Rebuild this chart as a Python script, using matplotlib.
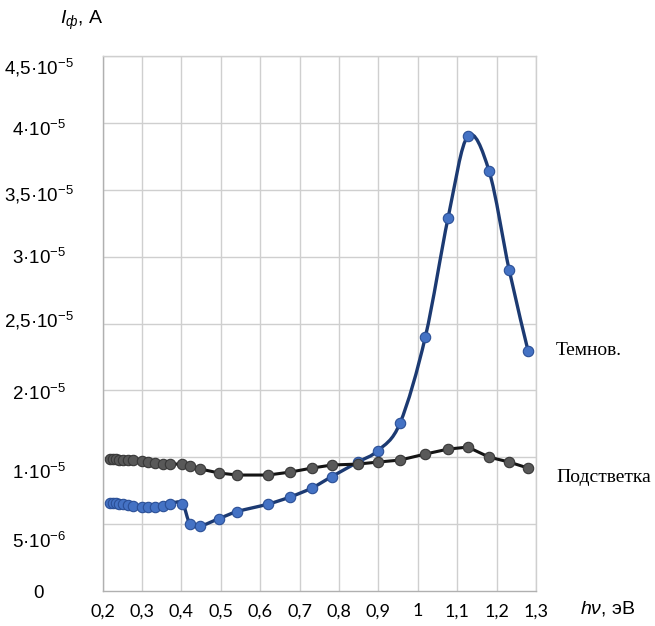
import matplotlib

matplotlib.use("Agg")
import matplotlib.pyplot as plt
import numpy as np
from matplotlib.path import Path
from matplotlib.patches import PathPatch


# photon energy, eV (same points for both curves)
hv = [0.219, 0.226, 0.234, 0.242, 0.252, 0.264, 0.277, 0.300, 0.315, 0.333,
      0.353, 0.371, 0.402, 0.422, 0.448, 0.496, 0.542, 0.620, 0.676, 0.731,
      0.782, 0.848, 0.899, 0.955, 1.019, 1.077, 1.127, 1.181, 1.232, 1.280]

# photocurrent, 1e-6 A (in the chart's grid units, 5e-6 per grid step)
dark = [6.58, 6.58, 6.58, 6.54, 6.50, 6.42, 6.35, 6.28, 6.28, 6.28,
        6.35, 6.54, 6.54, 5.01, 4.86, 5.42, 5.94, 6.50, 7.03, 7.70,
        8.56, 9.64, 10.50, 12.56, 18.98, 27.92, 34.01, 31.39, 23.99, 17.94]
backlit = [9.87, 9.87, 9.87, 9.83, 9.83, 9.79, 9.79, 9.72, 9.64, 9.57,
           9.49, 9.49, 9.49, 9.34, 9.12, 8.82, 8.67, 8.67, 8.89, 9.19,
           9.42, 9.49, 9.64, 9.79, 10.24, 10.61, 10.76, 10.01, 9.64, 9.19]

x_ticks = [0.2, 0.3, 0.4, 0.5, 0.6, 0.7, 0.8, 0.9, 1.0, 1.1, 1.2, 1.3]
x_labels = ["0,2", "0,3", "0,4", "0,5", "0,6", "0,7", "0,8", "0,9", "1",
            "1,1", "1,2", "1,3"]
y_labels = ["0", "5·$\\mathregular{10^{-6}}$", "1·$\\mathregular{10^{-5}}$",
            "2·$\\mathregular{10^{-5}}$", "2,5·$\\mathregular{10^{-5}}$",
            "3·$\\mathregular{10^{-5}}$", "3,5·$\\mathregular{10^{-5}}$",
            "4·$\\mathregular{10^{-5}}$", "4,5·$\\mathregular{10^{-5}}$"]

# where the hand-placed y labels sit, in grid steps
Y_LABEL_POS = [0.0, 0.76, 1.79, 2.98, 4.07, 5.01, 5.96, 6.92, 7.86]
STEP = 5e-6
GRID = "#cfcfcf"


def smooth_path(xs, ys):
    # Catmull-Rom through the points, as cubic Bezier pieces
    pts = np.column_stack([xs, ys])
    verts = [pts[0]]
    codes = [Path.MOVETO]
    n = len(pts)
    for i in range(n - 1):
        p0 = pts[max(i - 1, 0)]
        p1 = pts[i]
        p2 = pts[i + 1]
        p3 = pts[min(i + 2, n - 1)]
        verts += [p1 + (p2 - p0) / 6, p2 - (p3 - p1) / 6, p2]
        codes += [Path.CURVE4] * 3
    return Path(verts, codes)


plt.rcParams["mathtext.fontset"] = "custom"
plt.rcParams["mathtext.rm"] = "Liberation Sans"
plt.rcParams["mathtext.it"] = "Liberation Sans:italic"

fig = plt.figure(figsize=(6.55, 6.26), dpi=100)
ax = fig.add_axes([102.6 / 655, 35 / 626, 433.4 / 655, 535 / 626])

x = np.array(hv)
y_dark = np.array(dark) * 1e-6
y_back = np.array(backlit) * 1e-6

ax.add_patch(PathPatch(smooth_path(x, y_dark), facecolor="none",
                       edgecolor="#1c3a72", lw=2.4, zorder=3))
ax.plot(x, y_dark, ls="none", marker="o", ms=7.5, mfc="#4472c4",
        mec="#2a4f96", mew=0.8, zorder=4)
ax.plot(x, y_back, color="#141414", lw=2.2, marker="o", ms=7.5,
        mfc="#595959", mec="#383838", mew=0.8, zorder=5)

ax.set_xlim(0.2, 1.3)
ax.set_ylim(0, 8 * STEP)

ax.set_xticks(x_ticks)
ax.set_xticklabels(x_labels, fontfamily="Lato", fontsize=13)
ax.set_yticks([p * STEP for p in Y_LABEL_POS])
ax.set_yticklabels(y_labels, fontfamily="Liberation Sans", fontsize=13.5,
                   ha="center")
ax.set_yticks([k * STEP for k in range(9)], minor=True)
ax.tick_params(axis="x", length=0, pad=9)
ax.tick_params(axis="y", which="both", length=0, pad=46)

ax.grid(True, axis="x", color=GRID, lw=1.0)
ax.grid(True, axis="y", which="minor", color=GRID, lw=1.0)
ax.grid(False, axis="y", which="major")
for side in ["top", "right"]:
    ax.spines[side].set_color(GRID)
    ax.spines[side].set_linewidth(1.0)
for side in ["left", "bottom"]:
    ax.spines[side].set_color("#b0b0b0")
    ax.spines[side].set_linewidth(1.0)

fig.text(60 / 655, 1 - 20 / 626, "$I_{ф}$, A", fontfamily="Liberation Sans",
         fontsize=14, va="center", ha="left")
fig.text(580 / 655, 1 - 608 / 626, "$h\\nu$, эВ", fontfamily="Liberation Sans",
         fontsize=14, va="center", ha="left")
fig.text(556 / 655, 1 - 350 / 626, "Темнов.", fontfamily="Liberation Serif",
         fontsize=14, va="center", ha="left")
fig.text(556 / 655, 1 - 478 / 626, "Подстветка", fontfamily="Liberation Serif",
         fontsize=14, va="center", ha="left")

fig.savefig("out.png", dpi=100)
